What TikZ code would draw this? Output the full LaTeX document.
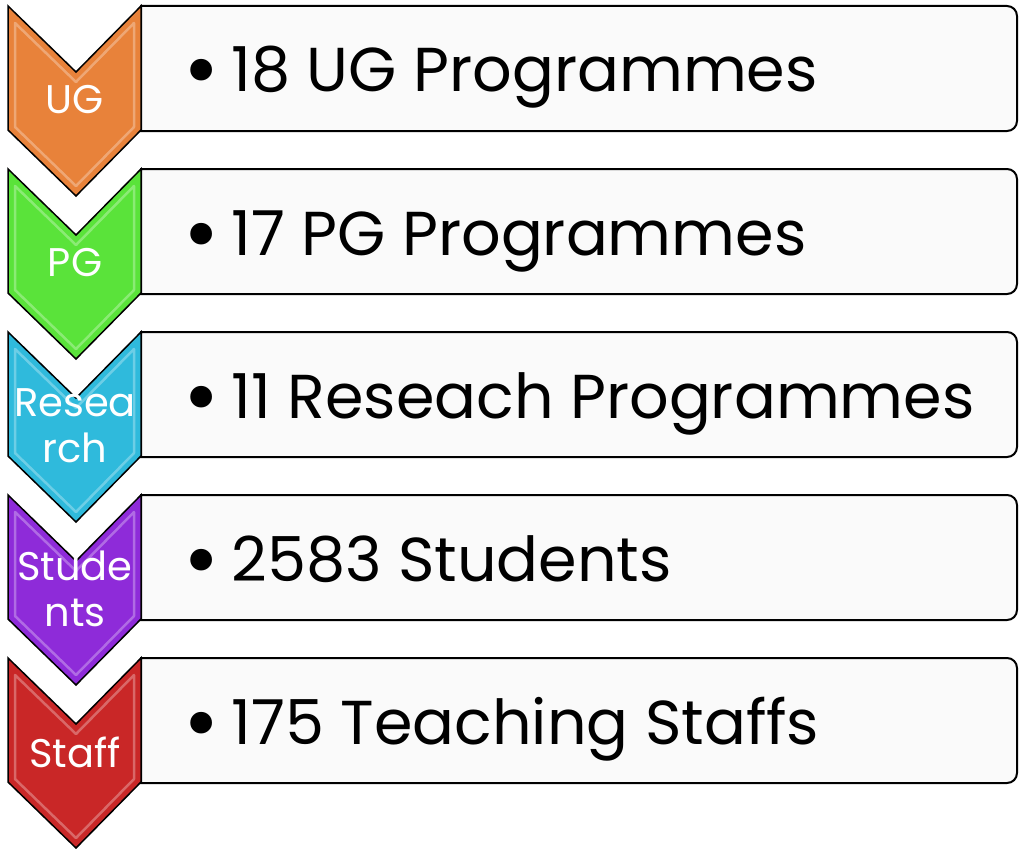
\documentclass[tikz,border=0pt]{standalone}
\usepackage{fontspec}
\setmainfont{Poppins}
\definecolor{ugCol}{HTML}{E8823A}
\definecolor{pgCol}{HTML}{5AE33A}
\definecolor{resCol}{HTML}{2FBADC}
\definecolor{stuCol}{HTML}{8E2BD9}
\definecolor{stfCol}{HTML}{C92727}
\tikzstyle{chev} = [draw=black, line width=1.5pt, line join=miter]
\tikzstyle{bevel} = [draw=white, line width=2.5pt, opacity=0.3, line join=round]
\tikzstyle{panel} = [draw=black, line width=2pt, fill=black!2]
\tikzstyle{tag} = [text=white, font=\fontsize{40}{46}\selectfont, align=center, inner sep=0pt]
\tikzstyle{item} = [anchor=base west, font=\fontsize{62}{66}\selectfont, inner sep=0pt]

% big bullet in front of each item
\newcommand{\bigdot}{\raisebox{-8pt}{\fontsize{88}{88}\selectfont\textbullet}\hspace{12pt}}
% chevron: name, top y, colour
\newcommand{\chevron}[3]{%
  \draw[chev, fill=#3] (8,#2) coordinate (#1) -- (76,#2+66) -- (141,#2) -- (141,#2+124)
    -- (76,#2+190) -- (8,#2+124) -- cycle;
  \draw[bevel] (15,#2+17) -- (76,#2+76) -- (134,#2+17) -- (134,#2+121)
    -- (76,#2+180) -- (15,#2+121) -- cycle;}
% text panel with rounded right corners: name, top y
\newcommand{\panelbox}[2]{%
  \draw[panel] (141,#2) coordinate (#1) -- (1007,#2) arc[start angle=90, end angle=0, radius=10pt]
    -- (1017,#2+115) arc[start angle=0, end angle=-90, radius=10pt] -- (141,#2+125) -- cycle;}

\begin{document}
\begin{tikzpicture}[x=1pt, y=-1pt]
    \useasboundingbox (0,0) rectangle (1019,848);

    \panelbox{ugPanel}{6}
    \panelbox{pgPanel}{169}
    \panelbox{resPanel}{332}
    \panelbox{stuPanel}{495}
    \panelbox{stfPanel}{658}

    \chevron{ugChev}{6}{ugCol}
    \chevron{pgChev}{169}{pgCol}
    \chevron{resChev}{332}{resCol}
    \chevron{stuChev}{495}{stuCol}
    \chevron{stfChev}{658}{stfCol}

    \node (ugTag) [tag] at (75,100) {UG};
    \node (pgTag) [tag] at (75,263) {PG};
    \node (resTag) [tag] at (75,426) {Resea\\rch};
    \node (stuTag) [tag] at (75,589) {Stude\\nts};
    \node (stfTag) [tag] at (75,752) {Staff};

    \node (ugItem) [item] at (183,92) {\bigdot 18 UG Programmes};
    \node (pgItem) [item] at (183,255) {\bigdot 17 PG Programmes};
    \node (resItem) [item] at (183,418) {\bigdot 11 Reseach Programmes};
    \node (stuItem) [item] at (183,581) {\bigdot 2583 Students};
    \node (stfItem) [item] at (183,744) {\bigdot 175 Teaching Staffs};

\end{tikzpicture}
\end{document}
